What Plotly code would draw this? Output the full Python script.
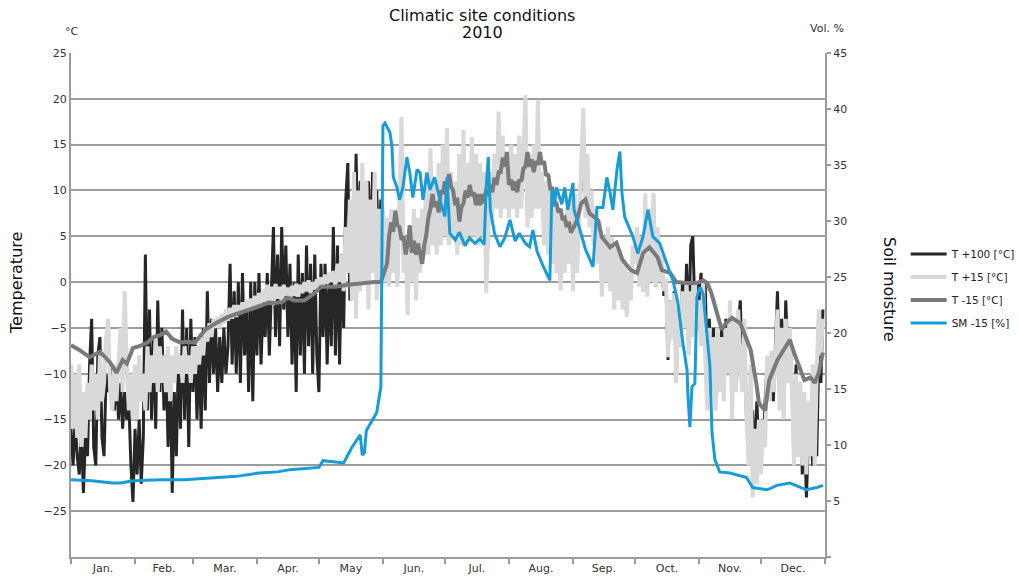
import plotly.graph_objects as go

# ---- data -------------------------------------------------------------
month_names = ["Jan.", "Feb.", "Mar.", "Apr.", "May", "Jun.", "Jul.", "Aug.",
               "Sep.", "Oct.", "Nov.", "Dec."]
month_starts = [0, 31, 59, 90, 120, 151, 181, 212, 243, 273, 304, 334, 365]

# daily air temperature readings (day-of-year 0..364), one row per month
days = list(range(365))

t_plus100 = [
    -16, -20, -15, -19, -21, -16, -23, -17, -19, -9, -4, -18, -20, -8, -6, -17, -19, -10, -12, -9, -12, -14, -10, -15, -11, -16, -12, -15, -13, -20, -24,
    -16, -21, -15, -22, -17, 3, -14, -3, -15, -6, -16, -2, -12, -5, -14, -8, -18, -9, -23, -12, -19, -8, -16, -3, -15, -5, -18, -4,
    -12, -6, -15, -7, -16, -5, -14, -1, -11, -4, -10, -5, -12, -6, -11, -5, -10, -7, 2, -9, -1, -10, 0, -11, 1, -8, -2, -12, 0, -13, 0,
    -8, 1, -9, -2, -6, 1, -8, -1, 6, -6, 3, -7, 6, -3, 4, -6, 2, -9, 0, -12, 3, -8, 1, -10, 4, -7, 2, -10, 3, -8,
    -12, 2, -6, 2, -9, 1, -7, 6, -8, 4, -9, 3, -5, 9, 13, -2, 8, -1, 14, 2, 11, 0, 9, 3, 11, 2, 12, 4, 10, 3, 9,
    7, 1, 6, 0, 7, 2, 5, 0, 8, 14, 2, 4, -2, 5, 1, 7, -1, 6, 2, 7, 4, 11, 4, 13, 5, 10, 4, 12, 5, 13,
    6, 15, 5, 11, 6, 10, 4, 13, 5, 15, 5, 12, 6, 14, 6, 13, 5, 12, 6, 11, 0, 6, 11, 8, 13, 9, 17, 8, 15, 9, 13,
    8, 14, 9, 13, 8, 15, 9, 12, 18, 7, 13, 8, 14, 9, 17, 9, 11, 5, 10, 4, 9, 3, 8, 2, 7, 0, 6, 2, 7, 3, 8,
    0, 9, 2, 7, 11, 17, 8, 13, 7, 9, 5, 7, 3, 6, -1, 4, 1, 5, 0, 4, -2, 3, -1, 2, -2, 2, -3, 1, -1, 3,
    2, 5, 0, 4, -1, 9, -1, 7, 0, 9, -0.5, 5, 0, 2, -1.5, 0, -8.5, -2, -6, -1, -11, -3, -7, 0, -5, 2, -6, 4, 5, -3, 0,
    -2, 1, -5, 0, -10, -4, -12, -5, -13, -6, -11, -5, -12, -4, -10, -3, -14, -6, -12, -5, -2, -10, -6, -15, -12, -19, -14, -20, -13, -18,
    -16, -18, -13, -9, -12, -8, -13, -6, -1, -10, -4, -12, -2, -8, -5, -12, -14, -9, -19, -11, -21, -15, -23.5, -17, -14, -20, -12, -19, -8, -11, -3,
]

t_plus15 = [
    -9, -16, -10, -17, -9, -18, -12, -17, -11, -15, -9, -14, -10, -15, -8, -13, -11, -6, -4, -12, -14, -9, -13, -8, -5, -12, -1, -9, -14, -10, -15,
    -9, -15, -8, -13, -10, -14, -7, -12, -8, -11, -6, -12, -7, -11, -8, -12, -7, -13, -8, -11, -7, -10, -8, -11, -7, -10, -8, -11,
    -7, -10, -7, -9, -6, -8, -5, -6.5, -4.5, -6, -4, -5, -3.8, -5, -3.5, -4.5, -3, -4.2, -2.8, -4, -2.5, -3.8, -2.5, -3.5, -2.2, -3.2, -2, -3, -1.8, -2.8, -1.5,
    -2.6, -1.2, -2.4, -0.8, -2.2, -0.3, -2, -0.5, -2.5, -0.2, -1.8, -0.5, -2.2, -0.3, -1.5, -0.6, -1.9, -0.4, -1.5, -0.2, -1.6, -0.3, -1.2, 0, -1, 0.2, -1.2, 0, -0.8, 0.3,
    -0.5, 0.5, -0.3, 0.8, -0.2, 1, 0, 1.2, -0.5, 2, 0, 3, -1, 6, 1, 9, -2, 12, -4, 10, -1, 13, 0, 11, -3, 9, 1, 12, -2, 8, 0,
    8, 0, 7, -0.5, 8, 1, 6, -0.5, 9, 18, 1, 4, -3.6, 6, 0, 8, -2, 7, 1, 8, 3, 12, 3, 14.6, 4, 11, 3, 13, 4, 15,
    5, 16.8, 4, 12, 5, 11, 3, 14, 4, 16.6, 4, 13, 5, 15.8, 5, 14, 4, 13, 5, 12, -1.2, 5, 12, 7, 14, 8, 18.6, 7, 16, 8, 14,
    7, 15, 8, 14, 7, 16, 8, 13, 20.4, 6, 14, 7, 15, 8, 19.9, 8, 12, 4, 11, 3, 10, 2, 9, 1, 8, -0.9, 7, 1, 8, 2, 9,
    -1, 9.7, 1, 8, 12, 19, 7, 14, 6, 10, 4, 8, 2, 6.8, -1.6, 5, 0, 6, -1, 4.9, -3, 4, -2, 3, -3, 2.4, -3.8, 1, -2, 4,
    2, 6, -0.5, 5, -1, 9.7, -1.6, 8, 0, 9.7, -0.5, 6, 0, 3, -1, 0.4, -8.2, -2, -6, -1.2, -11, -3, -7, -1, -5, 0, -8, -1, -6, 0, -5,
    -2, -7, 0, -8, -14, -5, -12, -6, -14, -5, -12, -6, -13, -5, -10, -2, -15, -4, -12, -3, -9, -12, -4, -15, -20, -9, -23.5, -16, -22, -15,
    -21, -15, -18, -8, -13, -7.5, -12, -9, -3, -14, -5, -15, -4, -11, -5, -12, -20, -10, -19, -11, -20, -12, -21, -13, -19, -9, -20, -10, -3, -8, -4,
]

# soil temperature at -15 cm (sparse in winter, daily through the summer)
t_minus15_day = (
    [0, 4, 9, 14, 19, 22, 25, 27, 30, 33, 37, 40, 43, 46, 49, 53, 56, 60, 65, 70,
     76, 83, 89, 95, 102, 105, 108, 113, 118, 121, 128, 134, 141, 147, 150]
    + list(range(153, 244))
    + [245, 247, 249, 251, 255, 257, 261, 264, 267, 271, 274, 277, 280, 284, 286,
       290, 293, 298, 303, 306, 308, 310, 313, 315, 317, 320, 324, 326, 329, 332,
       333, 336, 338, 342, 345, 348, 350, 353, 355, 358, 360, 362, 364]
)
t_minus15_val = [
    -6.9, -7.4, -8.2, -7.6, -8.8, -9.9, -8.5, -8.9, -7.2, -7.0, -6.6, -6.0, -5.8, -5.4, -6.2, -6.6, -6.5, -6.6, -5.2, -4.5,
    -3.8, -3.3, -2.8, -2.3, -2.2, -1.7, -2.0, -2.0, -1.2, -0.5, -0.5, -0.3, -0.1, 0.0, 0.0,
    2.0, 5.0, 6.5, 5.5, 7.8, 6.2, 6.0, 4.6, 5.0, 3.0,
    4.2, 6.2, 3.2, 4.5, 3.0, 4.2, 2.8, 2.0, 4.0, 5.2,
    7.0, 8.0, 9.6, 8.2, 8.8, 7.6, 10.0, 9.6, 11.0, 10.0,
    11.8, 10.4, 10.0, 8.4, 9.2, 6.6, 8.2, 8.6, 10.0, 9.2,
    10.6, 9.4, 9.8, 8.4, 9.6, 8.4, 9.6, 8.6, 10.2, 9.4,
    10.6, 9.8, 11.4, 10.6, 12.0, 12.0, 13.6, 12.6, 14.2, 10.6,
    11.2, 10.0, 11.0, 9.8, 11.2, 11.0, 12.4, 12.6, 14.2, 12.6,
    13.4, 12.0, 13.2, 12.8, 14.2, 12.8, 13.2, 11.6, 11.8, 10.2,
    10.2, 8.8, 8.6, 7.6, 8.0, 6.8, 7.0, 6.0, 6.6, 5.4, 5.8,
    6.8, 8.6, 9.0, 7.5, 6.8, 4.9, 3.8, 4.3, 2.4, 1.3, 1.0, 3.2, 3.8, 2.7, 1.3,
    1.0, 0.0, -0.1, -0.1, 0.2, -0.1, -1.2, -3.4, -5.2, -4.5, -3.9, -4.5, -5.6, -7.4, -11.4,
    -13.2, -14.0, -10.7, -8.5, -7.4, -6.3, -7.7, -9.6, -10.7, -10.4, -11.0, -9.9, -7.7,
]

# volumetric soil moisture at -15 cm
sm_day = [
    0, 10, 20, 24, 30, 43, 55, 67, 80, 91, 100, 106, 117, 120, 122, 128, 132, 136, 140, 141,
    142, 143, 148, 150, 151, 152, 154.4, 155.4, 156, 157.8, 159, 160.7, 162.6, 164, 165.5, 167.5, 169, 170.4, 172.3, 173.8,
    176, 178.6, 181, 182, 183.4, 186, 188, 190.7, 193, 195.5, 198, 200, 201, 202, 203, 205, 207.6, 210, 212.5, 215,
    217, 220, 222, 223.6, 225.6, 228.5, 231.8, 232.8, 234, 235, 237.6, 239, 240.5, 243, 243.5, 246.4, 249, 252.7, 254.6, 257.5,
    259.4, 261, 262.3, 264.3, 265.7, 266.7, 268, 272, 274.4, 276.9, 279.3, 281.7, 285, 288.4, 291.4, 293.8, 296.2, 298.2, 298.6, 299.6,
    300.6, 302, 303, 304.5, 306, 307.8, 309.3, 310.3, 311.7, 314, 319, 327, 330, 337, 341.7, 348, 353, 356, 361, 364,
]
sm_val = [
    6.9, 6.8, 6.6, 6.6, 6.8, 6.9, 6.9, 7.05, 7.2, 7.5, 7.6, 7.8, 7.95, 8.0, 8.6, 8.5, 8.4, 9.8, 10.9, 9.1,
    9.3, 11.3, 12.9, 15.2, 38.5, 38.75, 37.9, 36.6, 33.9, 33.0, 31.9, 33.0, 35.7, 34.3, 32.1, 34.6, 34.3, 31.9, 34.3, 32.8,
    33.9, 31.9, 30.4, 33.9, 28.9, 28.3, 29.0, 27.8, 28.5, 28.0, 28.4, 27.9, 33.0, 35.7, 31.0, 28.9, 27.7, 28.5, 30.1, 28.2,
    28.9, 28.0, 27.7, 29.2, 27.3, 26.0, 24.7, 32.8, 31.3, 33.0, 31.5, 33.0, 31.0, 33.4, 31.0, 29.2, 27.5, 25.9, 31.2, 31.2,
    33.9, 32.5, 31.0, 34.6, 36.2, 32.5, 30.4, 28.6, 27.1, 28.6, 31.0, 28.6, 28.0, 26.2, 24.7, 22.7, 19.1, 16.7, 14.6, 11.6,
    15.2, 15.5, 23.2, 24.1, 23.5, 20.0, 17.0, 11.1, 8.7, 7.6, 7.5, 7.1, 6.2, 6.0, 6.4, 6.6, 6.2, 6.0, 6.2, 6.4,
]

# ---- styling ----------------------------------------------------------
FONT = "DejaVu Sans"
GRID = "#9c9c9c"
AXIS = "#9c9c9c"
C_T100 = "#262626"
C_T15 = "#d9d9d9"
C_TM15 = "#7a7a7a"
C_SM = "#179cd8"

fig = go.Figure()

fig.add_trace(go.Scatter(x=days, y=t_plus100, name="T +100 [°C]", mode="lines",
                         legendgroup="a", line=dict(color=C_T100, width=3)))
fig.add_trace(go.Scatter(x=days, y=t_plus15, name="T +15 [°C]", mode="lines",
                         legendgroup="b", line=dict(color=C_T15, width=4)))
fig.add_trace(go.Scatter(x=t_minus15_day, y=t_minus15_val, name="T -15 [°C]", mode="lines",
                         legendgroup="c", line=dict(color=C_TM15, width=4)))
fig.add_trace(go.Scatter(x=sm_day, y=sm_val, name="SM -15 [%]", mode="lines",
                         legendgroup="d", line=dict(color=C_SM, width=3), yaxis="y2"))

month_mids = [(a + b) / 2 for a, b in zip(month_starts[:-1], month_starts[1:])]

fig.update_layout(
    width=1019, height=581,
    margin=dict(l=71, r=194, t=53, b=24, autoexpand=False),
    paper_bgcolor="white", plot_bgcolor="white",
    font=dict(family=FONT, size=11, color="#333333"),
    showlegend=True,
    legend=dict(x=1.107, y=0.63, xanchor="left", yanchor="top",
                font=dict(family=FONT, size=10.5, color="#222222"),
                tracegroupgap=4, itemwidth=36, bgcolor="rgba(0,0,0,0)"),
    xaxis=dict(
        range=[0, 365], showgrid=False, zeroline=False,
        showline=True, linecolor=AXIS, linewidth=2,
        tickmode="array", tickvals=month_mids, ticktext=month_names,
        ticks="", tickfont=dict(size=11, color="#333333"),
        minor=dict(tickmode="array", tickvals=month_starts, ticks="outside",
                   ticklen=5, tickcolor=AXIS, tickwidth=1.5, showgrid=False),
    ),
    yaxis=dict(
        range=[-30, 25], zeroline=False,
        showline=True, linecolor=AXIS, linewidth=2,
        tickmode="array", tickvals=list(range(-25, 30, 5)),
        ticks="", showgrid=True, gridcolor=GRID, gridwidth=1.5,
        tickfont=dict(size=11, color="#333333"),
    ),
    yaxis2=dict(
        range=[0, 45], overlaying="y", side="right", zeroline=False,
        showgrid=False, showline=True, linecolor=AXIS, linewidth=2,
        tickmode="array", tickvals=list(range(0, 50, 5)),
        ticktext=[""] + [str(v) for v in range(5, 50, 5)],
        ticks="outside", ticklen=4, tickcolor=AXIS, tickwidth=1.5,
        tickfont=dict(size=11, color="#333333"),
    ),
    annotations=[
        dict(text="Climatic site conditions", x=482, y=15, showarrow=False,
             font=dict(size=16, color="#111111")),
        dict(text="2010", x=482, y=33, showarrow=False, font=dict(size=16, color="#111111")),
        dict(text="°C", x=72, y=32, showarrow=False, font=dict(size=11, color="#333333")),
        dict(text="Vol. %", x=827, y=29, showarrow=False, font=dict(size=11, color="#333333")),
        dict(text="Temperature", x=16, y=283, textangle=-90, showarrow=False,
             font=dict(size=16, color="#111111")),
        dict(text="Soil moisture", x=890, y=289, textangle=90, showarrow=False,
             font=dict(size=16, color="#111111")),
    ],
)

# annotations above are placed in pixel coordinates; convert to paper coords
L, R, T, B = 71, 825, 53, 557
for ann in fig.layout.annotations:
    px, py = ann.x, ann.y
    ann.x = (px - L) / (R - L)
    ann.y = 1 - (py - T) / (B - T)
    ann.xref = "paper"
    ann.yref = "paper"
    ann.xanchor = "center"
    ann.yanchor = "middle"

fig.write_html("out.html")
